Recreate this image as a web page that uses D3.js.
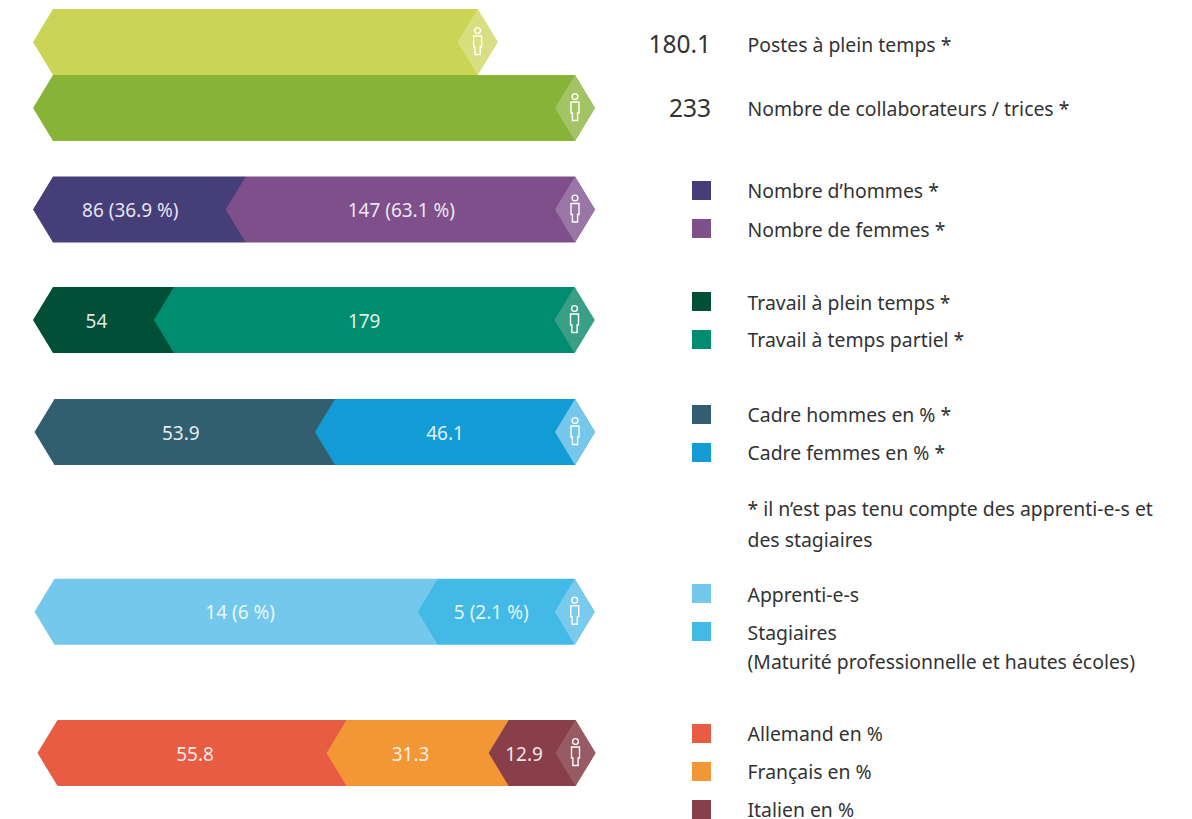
<!DOCTYPE html>
<html>
<head>
<meta charset="utf-8">
<script src="https://cdn.jsdelivr.net/npm/d3@7"></script>
<style>
  html, body { margin: 0; padding: 0; background: #fff; }
  text { font-family: "Noto Sans", sans-serif; }
</style>
</head>
<body>
<div id="chart"></div>
<script>
var rowValues = [[180.1], [233], [86, 147], [54, 179], [53.9, 46.1], [14, 5], [55.8, 31.3, 12.9]];
// first bar is not drawn to the 233 scale in the picture, hence its own total
var rowTotals = [221.4, 233, 233, 233, 100, 19, 100];
var rowLabels = [
  [''], [''],
  ['86 (36.9 %)', '147 (63.1 %)'],
  ['54', '179'],
  ['53.9', '46.1'],
  ['14 (6 %)', '5 (2.1 %)'],
  ['55.8', '31.3', '12.9']
];
var rowColors = [
  ['#cbd455'], ['#88b339'],
  ['#463e79', '#7e4f8b'],
  ['#004f36', '#008c6e'],
  ['#325f6f', '#139bd5'],
  ['#73c8ec', '#43bae5'],
  ['#e85c44', '#f39736', '#883f4a']
];
var iconColors = ['#d8df80', '#a3c465', '#9a76a6', '#3a9f87', '#76c7ec', '#79caec', '#985a63'];

var headNumbers = ['180.1', '233'];
var headTexts = ['Postes à plein temps *', 'Nombre de collaborateurs / trices *'];
var legendNames = [
  'Nombre d’hommes *', 'Nombre de femmes *',
  'Travail à plein temps *', 'Travail à temps partiel *',
  'Cadre hommes en % *', 'Cadre femmes en % *',
  'Apprenti-e-s', 'Stagiaires',
  'Allemand en %', 'Français en %', 'Italien en %'
];
var legendColors = [
  '#463e79', '#7e4f8b', '#004f36', '#008c6e', '#325f6f', '#139bd5',
  '#73c8ec', '#43bae5', '#e85c44', '#f39736', '#883f4a'
];
var noteLines = ['* il n’est pas tenu compte des apprenti-e-s et', 'des stagiaires'];
var subLine = '(Maturité professionnelle et hautes écoles)';

// layout
var width = 1192, height = 819;
var barH = 66, tip = 20;
var rowTop = [9, 75, 176.5, 287, 399, 578.7, 720];
var rowStart = [53, 53, 53, 53, 54.5, 54.5, 57.5];
var rowEnd = [575, 575, 575, 574.5, 575, 574.7, 575.5];
var labelNudge = [[0], [0], [1, 1], [3, 0], [6, 0], [14, -5], [13, 3, -8]];
var legendBase = [197, 236, 309, 346, 421, 459, 601, 639, 740, 778, 816];
var swatchTop = [181, 219, 292, 330, 405, 443, 584, 622, 724, 762, 800];
var textColor = '#333';
var textX = 747.5;

var svg = d3.select('#chart')
    .append('svg')
    .attr('width', width)
    .attr('height', height)
    .style('display', 'block');

function hexagon(a, b, top) {
  var mid = top + barH / 2;
  return d3.line()([
    [a - tip, mid], [a, top], [b, top], [b + tip, mid], [b, top + barH], [a, top + barH]
  ]) + 'Z';
}

rowValues.forEach(function(vals, r) {
  var x = d3.scaleLinear().domain([0, rowTotals[r]]).range([rowStart[r], rowEnd[r]]);
  var top = rowTop[r], mid = top + barH / 2;
  var g = svg.append('g').attr('class', 'row');
  var stack = d3.cumsum(vals);

  // later segments sit on top, their point cuts into the previous one
  g.selectAll('path.seg')
      .data(vals)
      .enter().append('path')
      .attr('class', 'seg')
      .attr('d', function(d, i) {
        return hexagon(x(i ? stack[i - 1] : 0), x(stack[i]), top);
      })
      .attr('fill', function(d, i) { return rowColors[r][i]; });

  g.selectAll('text')
      .data(vals)
      .enter().append('text')
      .attr('x', function(d, i) {
        var a = x(i ? stack[i - 1] : 0), b = x(stack[i]);
        var last = i === vals.length - 1;
        return (a + b) / 2 - (last ? 10 : 20) + labelNudge[r][i];
      })
      .attr('y', mid + 7.5)
      .attr('text-anchor', 'middle')
      .attr('font-size', 19)
      .attr('fill', '#fff')
      .attr('fill-opacity', 0.88)
      .text(function(d, i) { return rowLabels[r][i]; });

  // lighter diamond with the little person at the end of the bar
  var end = x(stack[stack.length - 1]);
  g.append('path')
      .attr('d', d3.line()([[end - tip, mid], [end, top], [end + tip, mid], [end, top + barH]]) + 'Z')
      .attr('fill', iconColors[r]);
  g.append('circle')
      .attr('cx', end)
      .attr('cy', mid - 11.5)
      .attr('r', 2.9)
      .attr('fill', 'none')
      .attr('stroke', '#fff')
      .attr('stroke-width', 1.4);
  g.append('path')
      .attr('d', 'M-4,-6H4V5H2.6V12.5H-2.6V5H-4Z')
      .attr('transform', 'translate(' + end + ',' + mid + ')')
      .attr('fill', 'none')
      .attr('stroke', '#fff')
      .attr('stroke-width', 1.4);
});

// head numbers
var headBase = [52.5, 116.5];
headTexts.forEach(function(t, i) {
  svg.append('text')
      .attr('x', 711).attr('y', headBase[i])
      .attr('text-anchor', 'end')
      .attr('font-size', 24.5)
      .attr('fill', textColor)
      .text(headNumbers[i]);
  svg.append('text')
      .attr('class', 'legend-text')
      .attr('x', textX).attr('y', headBase[i] - 1)
      .text(t);
});

// legend
legendNames.forEach(function(t, i) {
  svg.append('rect')
      .attr('x', 692)
      .attr('y', swatchTop[i])
      .attr('width', 19)
      .attr('height', 19)
      .attr('fill', legendColors[i]);
  svg.append('text')
      .attr('class', 'legend-text')
      .attr('x', textX).attr('y', legendBase[i] + 0.5)
      .text(t);
});

svg.append('text').attr('class', 'legend-text').attr('x', textX).attr('y', 668.5).text(subLine);
var noteBase = [515.5, 546.5];
noteLines.forEach(function(t, i) {
  svg.append('text').attr('class', 'legend-text').attr('x', textX).attr('y', noteBase[i]).text(t);
});

svg.selectAll('.legend-text')
    .attr('font-size', 19.4)
    .attr('fill', textColor);
</script>
</body>
</html>
